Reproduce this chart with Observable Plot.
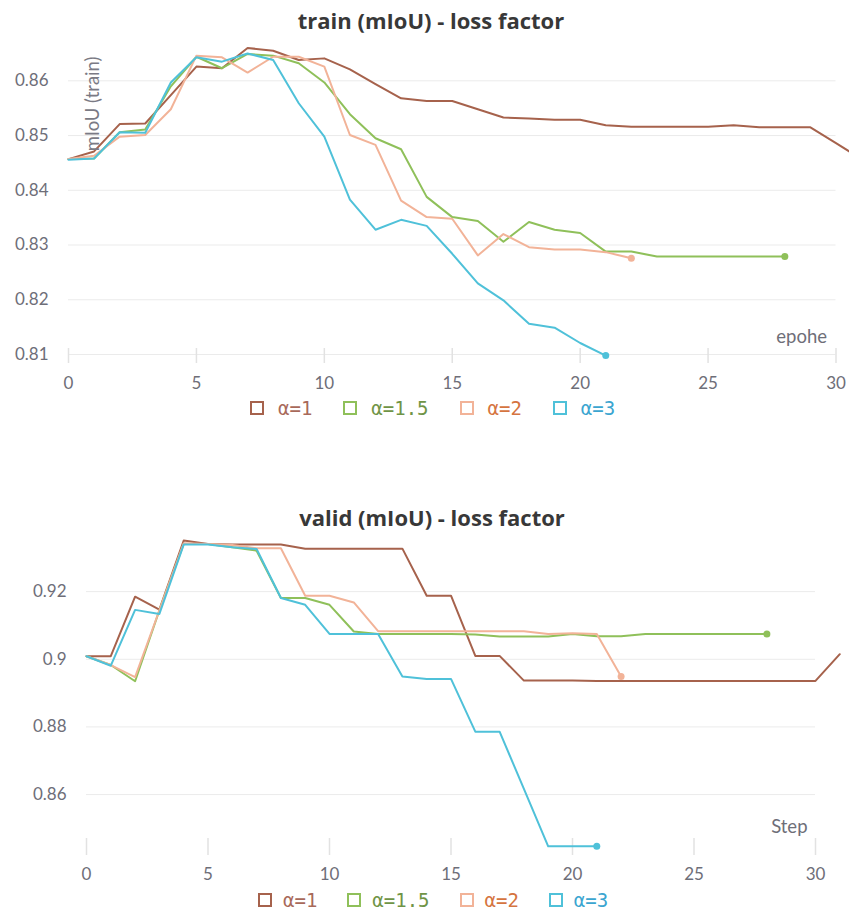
<!DOCTYPE html>
<html>
<head>
<meta charset="utf-8">
<script src="https://cdn.jsdelivr.net/npm/d3@7"></script>
<script src="https://cdn.jsdelivr.net/npm/@observablehq/plot@0.6"></script>
<style>
  body { margin: 0; background: #fff; }
  #page { position: relative; width: 849px; height: 911px; overflow: hidden; font-family: Lato, sans-serif; }
  .title { position: absolute; left: 0; text-align: center; font-family: "Open Sans", sans-serif; font-weight: bold; font-size: 22px; line-height: 24px; color: #383838; }
  .chart { position: absolute; left: 0; }
  .legend { position: absolute; display: flex; align-items: center; font-family: "DejaVu Sans Mono", monospace; font-size: 19px; line-height: 22px; white-space: pre; }
  .legend .item { display: flex; align-items: center; }
  .legend .swatch { width: 14px; height: 14px; box-sizing: border-box; border: 2px solid; }
</style>
</head>
<body>
<div id="page"></div>
<script>
// Loss-factor runs
const seriesNames = ["α=1", "α=1.5", "α=2", "α=3"];

// train mIoU per epoch (index = epoch)
const trainA1 = [0.8457, 0.8471, 0.8521, 0.8522, 0.8574, 0.8626, 0.8623, 0.8660, 0.8655, 0.8638, 0.8641, 0.8621, 0.8594, 0.8568, 0.8563, 0.8563, 0.8548, 0.8533, 0.8531, 0.8529, 0.8529, 0.8519, 0.8516, 0.8516, 0.8516, 0.8516, 0.8519, 0.8515, 0.8515, 0.8515, 0.8486, 0.8457];
const trainA15 = [0.8457, 0.8458, 0.8506, 0.8511, 0.8590, 0.8644, 0.8623, 0.8649, 0.8646, 0.8632, 0.8597, 0.8539, 0.8495, 0.8475, 0.8388, 0.8351, 0.8344, 0.8306, 0.8342, 0.8328, 0.8322, 0.8288, 0.8288, 0.8279, 0.8279, 0.8279, 0.8279, 0.8279, 0.8279];
const trainA2 = [0.8457, 0.8463, 0.8498, 0.8501, 0.8548, 0.8646, 0.8643, 0.8615, 0.8644, 0.8644, 0.8626, 0.8501, 0.8483, 0.8381, 0.8351, 0.8348, 0.8281, 0.8320, 0.8296, 0.8292, 0.8292, 0.8287, 0.8276];
const trainA3 = [0.8456, 0.8458, 0.8506, 0.8505, 0.8597, 0.8643, 0.8635, 0.8650, 0.8638, 0.8559, 0.8498, 0.8383, 0.8328, 0.8346, 0.8335, 0.8284, 0.8230, 0.8199, 0.8156, 0.8149, 0.8121, 0.8098];

// valid mIoU per step (index = step)
const validA1 = [0.9009, 0.9009, 0.9185, 0.9147, 0.9351, 0.9341, 0.9339, 0.9339, 0.9339, 0.9327, 0.9327, 0.9327, 0.9327, 0.9327, 0.9188, 0.9188, 0.9010, 0.9010, 0.8937, 0.8937, 0.8937, 0.8936, 0.8936, 0.8936, 0.8936, 0.8936, 0.8936, 0.8936, 0.8936, 0.8936, 0.8936, 0.9015];
const validA15 = [0.9009, 0.8983, 0.8935, 0.9145, 0.9341, 0.9341, 0.9331, 0.9321, 0.9181, 0.9181, 0.9161, 0.9082, 0.9075, 0.9075, 0.9075, 0.9075, 0.9073, 0.9067, 0.9067, 0.9067, 0.9075, 0.9068, 0.9068, 0.9075, 0.9075, 0.9075, 0.9075, 0.9075, 0.9075];
const validA2 = [0.9009, 0.8983, 0.8947, 0.9145, 0.9343, 0.9341, 0.9338, 0.9328, 0.9328, 0.9188, 0.9188, 0.9168, 0.9083, 0.9083, 0.9083, 0.9083, 0.9083, 0.9083, 0.9083, 0.9075, 0.9077, 0.9075, 0.8949];
const validA3 = [0.9009, 0.8981, 0.9146, 0.9134, 0.9339, 0.9339, 0.9331, 0.9326, 0.9181, 0.9161, 0.9075, 0.9075, 0.9075, 0.8949, 0.8942, 0.8942, 0.8786, 0.8786, 0.8617, 0.8447, 0.8447, 0.8447];

// Tick labels
const xTicks = [0, 5, 10, 15, 20, 25, 30];
const trainYTicks = [0.81, 0.82, 0.83, 0.84, 0.85, 0.86];
const validYTicks = [0.86, 0.88, 0.9, 0.92];

// Which runs get an end marker (the α=1 run continues past the visible range)
const endMarked = [false, true, true, true];

const lineColors = ["#a6624c", "#8fc05a", "#f2b398", "#4fc1d9"];
const legendTextColors = ["#a8695a", "#6f9446", "#d5743f", "#3ba5d0"];
const tickColor = "#6e6e78";

function toRows(seriesValues) {
  return seriesValues.flatMap((vals, k) => vals.map((v, i) => ({step: i, value: v, series: seriesNames[k]})));
}
function endPoints(seriesValues) {
  return seriesValues.flatMap((vals, k) => endMarked[k] ? [{step: vals.length - 1, value: vals[vals.length - 1], series: seriesNames[k]}] : []);
}

function chart({values, yTicks, yDomain, width, height, marginTop, marginBottom, marginLeft, marginRight, tickUp, tickDown, labelPad, xLabel, xLabelDx, xLabelDy, yLabel}) {
  const rows = toRows(values);
  const ends = endPoints(values);
  const marks = [
    Plot.gridY(yTicks, {stroke: "#ebebeb", strokeOpacity: 1, strokeWidth: 1}),
    Plot.axisY(yTicks, {tickSize: 0, tickPadding: 20, tickFormat: d => String(d), fill: tickColor, label: null}),
    Plot.axisX(xTicks, {tickSize: tickUp + tickDown, dy: -tickUp, text: null, stroke: "#e2e2e2", strokeWidth: 1.5, label: null}),
    Plot.axisX(xTicks, {tickSize: 0, tickPadding: labelPad, fill: tickColor, label: null}),
    Plot.line(rows, {x: "step", y: "value", z: "series", stroke: "series", strokeWidth: 2}),
    Plot.dot(ends, {x: "step", y: "value", fill: "series", r: 3.5}),
    Plot.text([xLabel], {frameAnchor: "bottom-right", textAnchor: "end", dx: xLabelDx, dy: xLabelDy, fill: tickColor, fontSize: 18.5})
  ];
  if (yLabel) {
    marks.push(Plot.text([yLabel], {frameAnchor: "top-left", rotate: -90, textAnchor: "end", dx: 17, dy: 14, fill: "#7a7a84", fontSize: 18.5}));
  }
  return Plot.plot({
    width, height, marginTop, marginBottom, marginLeft, marginRight,
    x: {domain: [0, 30]},
    y: {domain: yDomain},
    color: {domain: seriesNames, range: lineColors},
    style: {fontFamily: "Lato, sans-serif", fontSize: "17px", background: "transparent", color: tickColor},
    marks
  });
}

function legend(left, top, swatchGap, itemGap) {
  const el = document.createElement("div");
  el.className = "legend";
  el.style.left = left + "px";
  el.style.top = top + "px";
  el.style.gap = itemGap + "px";
  seriesNames.forEach((name, k) => {
    const item = document.createElement("div");
    item.className = "item";
    const sw = document.createElement("span");
    sw.className = "swatch";
    sw.style.borderColor = lineColors[k];
    sw.style.marginRight = swatchGap + "px";
    const tx = document.createElement("span");
    tx.textContent = name;
    tx.style.color = legendTextColors[k];
    item.append(sw, tx);
    el.append(item);
  });
  return el;
}

function title(text, top, center) {
  const el = document.createElement("div");
  el.className = "title";
  el.style.top = top + "px";
  el.style.width = (center * 2) + "px";
  el.textContent = text;
  return el;
}

const page = document.getElementById("page");

// train chart
const c1 = chart({
  values: [trainA1, trainA15, trainA2, trainA3],
  yTicks: trainYTicks, yDomain: [0.81, 0.867],
  width: 849, height: 400, marginTop: 42, marginBottom: 46, marginLeft: 68, marginRight: 13.5,
  tickUp: 6, tickDown: 9, labelPad: 22,
  xLabel: "epohe", xLabelDx: -9, xLabelDy: -12, yLabel: "mIoU (train)"
});
c1.classList.add("chart");
c1.style.top = "0px";
page.append(c1);
page.append(title("train (mIoU) - loss factor", 8, 431));
page.append(legend(250, 397, 14, 31));

// valid chart
const c2 = chart({
  values: [validA1, validA15, validA2, validA3],
  yTicks: validYTicks, yDomain: [0.8445, 0.936],
  width: 849, height: 395, marginTop: 37, marginBottom: 48.5, marginLeft: 86, marginRight: 34,
  tickUp: 8.5, tickDown: 8.5, labelPad: 21,
  xLabel: "Step", xLabelDx: -8, xLabelDy: -14, yLabel: null
});
c2.classList.add("chart");
c2.style.top = "500px";
page.append(c2);
page.append(title("valid (mIoU) - loss factor", 505, 432));
page.append(legend(258, 889, 11, 30));
</script>
</body>
</html>
